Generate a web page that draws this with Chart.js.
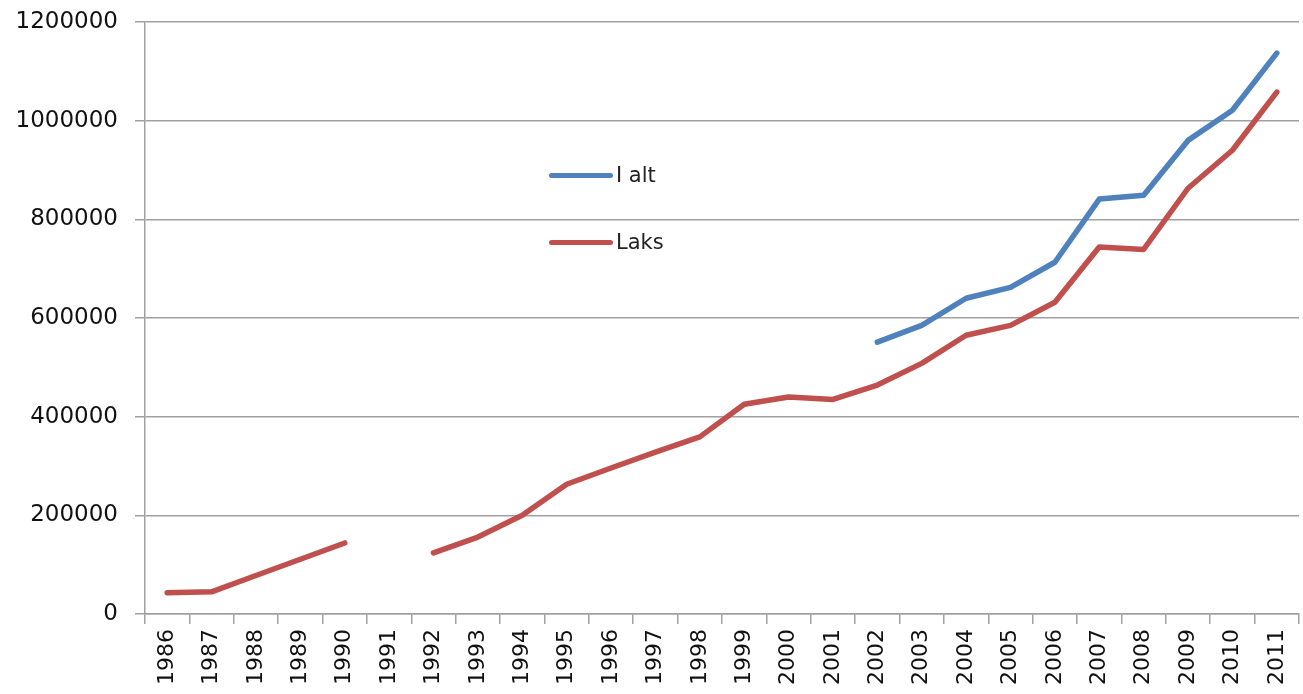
<!DOCTYPE html>
<html>
<head>
<meta charset="utf-8">
<script src="https://cdn.jsdelivr.net/npm/chart.js@4/dist/chart.umd.min.js"></script>
<style>
  html, body { margin: 0; padding: 0; background: #fff; }
  #wrap { position: relative; width: 1303px; height: 694px; }
  .legend-item { position: absolute; left: 549px; height: 30px; display: flex; align-items: center;
    font-family: "DejaVu Sans", sans-serif; font-size: 21px; color: #222; }
  .legend-item span.swatch { display: inline-block; width: 64px; height: 5px; border-radius: 3px; margin-right: 3px; }
</style>
</head>
<body>
<div id="wrap">
  <canvas id="chart" width="1303" height="694"></canvas>
  <div class="legend-item" style="top:160px"><span class="swatch" style="background:#4F81BD"></span>I alt</div>
  <div class="legend-item" style="top:227px"><span class="swatch" style="background:#C0504D"></span>Laks</div>
</div>
<script>
// Data
const years = ['1986', '1987', '1988', '1989', '1990', '1991', '1992', '1993', '1994', '1995',
    '1996', '1997', '1998', '1999', '2000', '2001', '2002', '2003', '2004', '2005',
    '2006', '2007', '2008', '2009', '2010', '2011'];

const iAlt = [null, null, null, null, null, null, null, null, null, null,
    null, null, null, null, null, null, 551000, 585000, 640000, 662000,
    713000, 841000, 849000, 960000, 1021000, 1137000];

const laks = [43000, 45000, 78000, 111000, 144000, null, 124000, 156000, 200000, 263000,
    296000, 328000, 359000, 425000, 440000, 435000, 464000, 508000, 565000, 585000,
    632000, 744000, 739000, 863000, 940000, 1058000];

const yTicks = [0, 200000, 400000, 600000, 800000, 1000000, 1200000];

const gridColor = '#a0a0a0';

const ctx = document.getElementById('chart').getContext('2d');

new Chart(ctx, {
    type: 'line',
    data: {
        labels: years,
        datasets: [
            {
                label: 'I alt',
                data: iAlt,
                borderColor: '#4F81BD',
                borderWidth: 5.5,
                pointRadius: 0,
                borderCapStyle: 'round',
                borderJoinStyle: 'round',
                tension: 0,
                spanGaps: false,
            },
            {
                label: 'Laks',
                data: laks,
                borderColor: '#C0504D',
                borderWidth: 5.5,
                pointRadius: 0,
                borderCapStyle: 'round',
                borderJoinStyle: 'round',
                tension: 0,
                spanGaps: false,
            },
        ],
    },
    options: {
        responsive: false,
        animation: false,
        layout: { padding: { top: 22, right: 4, left: 0, bottom: 0 } },
        plugins: {
            legend: { display: false },
            tooltip: { enabled: false },
        },
        scales: {
            x: {
                offset: true,
                grid: {
                    offset: true,
                    drawOnChartArea: false,
                    drawTicks: true,
                    tickLength: 10,
                    color: gridColor,
                    lineWidth: 1.5,
                },
                border: { color: gridColor, width: 1.5 },
                ticks: {
                    minRotation: 90,
                    maxRotation: 90,
                    autoSkip: false,
                    padding: 5,
                    color: '#111',
                    font: { family: 'DejaVu Sans', size: 22 },
                },
                afterFit: (scale) => {
                    scale.height = 80;
                    scale.paddingLeft = 0;
                    scale.paddingRight = 0;
                },
            },
            y: {
                min: 0,
                max: 1200000,
                afterBuildTicks: (scale) => {
                    scale.ticks = yTicks.map(v => ({ value: v }));
                },
                grid: {
                    color: gridColor,
                    lineWidth: 1.5,
                    tickLength: 10,
                },
                border: { color: gridColor, width: 1.5 },
                ticks: {
                    padding: 17,
                    color: '#111',
                    font: { family: 'DejaVu Sans', size: 23 },
                    callback: (value) => value.toString(),
                },
                afterFit: (scale) => {
                    scale.width = 145;
                    scale.paddingTop = 0;
                    scale.paddingBottom = 0;
                },
            },
        },
    },
});
</script>
</body>
</html>
